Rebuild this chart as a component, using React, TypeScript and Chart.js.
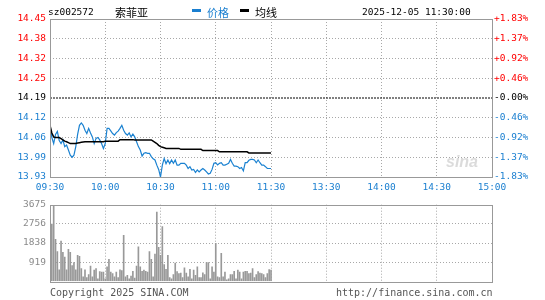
import React, { useEffect, useRef } from 'react';
import { Chart, registerables } from 'chart.js';
Chart.register(...registerables);

const stockCode = 'sz002572';
const stockName = '索菲亚';
const stampText = '2025-12-05 11:30:00';
const legendPrice = '价格';
const legendAvg = '均线';

const timeLabels = ['09:30', '10:00', '10:30', '11:00', '11:30', '13:30', '14:00', '14:30', '15:00'];
const priceTickLabels = ['13.93', '13.99', '14.06', '14.12', '14.19', '14.25', '14.32', '14.38', '14.45'];
const pctTickLabels = ['-1.83%', '-1.37%', '-0.92%', '-0.46%', '-0.00%', '+0.46%', '+0.92%', '+1.37%', '+1.83%'];
const volTickLabels = ['', '919', '1838', '2756', '3675'];

const prevClose = 14.19;
const priceMin = 13.93;
const priceMax = 14.45;
const volMax = 3675;
const totalMinutes = 240;

const price = [
  14.10, 14.06, 14.04, 14.07, 14.08, 14.05, 14.04, 14.052, 14.03, 14.035,
  14.019, 14.002, 13.995, 14.002, 14.03, 14.07, 14.10, 14.108, 14.10, 14.084,
  14.073, 14.09, 14.075, 14.062, 14.04, 14.057, 14.06, 14.052, 14.04, 14.024,
  14.04, 14.09, 14.09, 14.082, 14.073, 14.068, 14.076, 14.081, 14.09, 14.10,
  14.084, 14.073, 14.068, 14.075, 14.062, 14.071, 14.062, 14.046, 14.03, 14.019,
  13.999, 14.008, 14.01, 14.008, 14.008, 13.997, 13.99, 13.986, 13.969, 13.955,
  13.93, 13.969, 13.991, 13.974, 13.986, 13.974, 13.986, 13.975, 13.986, 13.969,
  13.969, 13.975, 13.975, 13.975, 13.969, 13.958, 13.964, 13.953, 13.955, 13.945,
  13.953, 13.947, 13.953, 13.958, 13.953, 13.947, 13.94, 13.942, 13.955, 13.975,
  13.977, 13.97, 13.975, 13.977, 13.969, 13.969, 13.972, 13.975, 13.988, 13.975,
  13.966, 13.966, 13.964, 13.958, 13.961, 13.95, 13.977, 13.977, 13.985, 13.988,
  13.988, 13.986, 13.977, 13.986, 13.977, 13.969, 13.969, 13.964, 13.958, 13.958,
  13.958,
];

const avgPrice = [
  14.100, 14.075, 14.062, 14.060, 14.060, 14.060, 14.056, 14.052, 14.048, 14.046,
  14.043, 14.040, 14.040, 14.040, 14.040, 14.042, 14.043, 14.044, 14.045, 14.046,
  14.046, 14.046, 14.046, 14.046, 14.046, 14.046, 14.046, 14.046, 14.046, 14.046,
  14.048, 14.048, 14.048, 14.048, 14.048, 14.048, 14.048, 14.048, 14.053, 14.053,
  14.053, 14.053, 14.053, 14.053, 14.053, 14.053, 14.052, 14.052, 14.052, 14.052,
  14.052, 14.052, 14.052, 14.052, 14.052, 14.052, 14.048, 14.044, 14.040, 14.034,
  14.030, 14.028, 14.026, 14.024, 14.024, 14.024, 14.024, 14.024, 14.024, 14.024,
  14.024, 14.021, 14.021, 14.021, 14.021, 14.021, 14.021, 14.021, 14.021, 14.021,
  14.021, 14.021, 14.021, 14.017, 14.017, 14.017, 14.017, 14.017, 14.017, 14.017,
  14.017, 14.017, 14.013, 14.013, 14.013, 14.013, 14.013, 14.013, 14.013, 14.013,
  14.013, 14.013, 14.013, 14.013, 14.013, 14.013, 14.013, 14.013, 14.009, 14.009,
  14.009, 14.009, 14.009, 14.009, 14.009, 14.009, 14.009, 14.009, 14.009, 14.009,
  14.009,
];

const volume = [
  394, 2742, 3645, 2012, 1429, 554, 1925, 1385, 1167, 554,
  1531, 1385, 758, 904, 554, 1240, 1196, 613, 219, 554,
  175, 321, 729, 219, 540, 613, 117, 467, 438, 438,
  117, 700, 1050, 438, 365, 219, 438, 175, 554, 520,
  2200, 220, 290, 120, 250, 480, 150, 730, 1650, 700,
  480, 540, 480, 440, 1430, 1050, 220, 1310, 3325, 1630,
  1240, 2625, 800, 580, 1240, 175, 120, 320, 875, 470,
  365, 390, 175, 650, 390, 220, 580, 120, 540, 290,
  700, 175, 175, 410, 320, 900, 900, 120, 700, 440,
  1820, 220, 175, 1340, 220, 440, 75, 120, 320, 320,
  480, 120, 540, 440, 120, 440, 480, 480, 365, 390,
  610, 175, 320, 470, 390, 365, 320, 175, 365, 560,
  540,
];

const MONO = "'DejaVu Sans Mono', monospace";
const CJK = "'Noto Sans CJK SC', sans-serif";
const BLUE = '#1a7fd0';
const LINE_BLUE = '#1b82d1';
const RED = '#ff0000';
const GRID = '#a8a8a8';
const FRAME = '#999999';
const TICK_FONT = { family: MONO, size: 9.5 };
const TRANSPARENT = 'rgba(0,0,0,0)';

const framePlugin = {
  id: 'frame',
  afterDraw(chart: any) {
    const { ctx, chartArea: a } = chart;
    ctx.save();
    ctx.strokeStyle = FRAME;
    ctx.lineWidth = 1;
    ctx.strokeRect(Math.round(a.left) + 0.5, Math.round(a.top) + 0.5, Math.round(a.right - a.left), Math.round(a.bottom - a.top));
    ctx.restore();
  },
};

const timeTicks = (s: any) => {
  const step = totalMinutes / (timeLabels.length - 1);
  s.ticks = timeLabels.map((_, k) => ({ value: k * step }));
};
const priceTicks = (s: any) => {
  const n = priceTickLabels.length - 1;
  s.ticks = priceTickLabels.map((_, k) => ({ value: priceMin + (k * (priceMax - priceMin)) / n }));
};

export default function App() {
  const priceRef = useRef<HTMLCanvasElement>(null);
  const volRef = useRef<HTMLCanvasElement>(null);

  useEffect(() => {
    const priceChart = new Chart(priceRef.current as HTMLCanvasElement, {
      type: 'line',
      data: {
        datasets: [
          {
            data: avgPrice.map((v, i) => ({ x: i, y: v })),
            borderColor: '#000000',
            borderWidth: 1.5,
            pointRadius: 0,
            tension: 0,
            order: 0,
          },
          {
            data: price.map((v, i) => ({ x: i, y: v })),
            borderColor: LINE_BLUE,
            borderWidth: 1.2,
            pointRadius: 0,
            tension: 0,
            order: 1,
          },
          {
            data: [
              { x: 0, y: prevClose },
              { x: totalMinutes, y: prevClose },
            ],
            borderColor: '#000000',
            borderWidth: 1,
            borderDash: [2, 1],
            pointRadius: 0,
            order: 2,
          },
        ],
      },
      options: {
        animation: false,
        responsive: false,
        devicePixelRatio: 1,
        layout: { padding: { top: 19, left: 0, right: 0, bottom: 0 } },
        plugins: { legend: { display: false }, tooltip: { enabled: false } },
        scales: {
          x: {
            type: 'linear',
            min: 0,
            max: totalMinutes,
            afterBuildTicks: timeTicks,
            afterFit: (s: any) => {
              s.height = 18;
            },
            ticks: {
              autoSkip: false,
              maxRotation: 0,
              padding: 5,
              color: BLUE,
              font: TICK_FONT,
              callback: (_v: any, i: number) => timeLabels[i],
            },
            grid: {
              drawTicks: false,
              lineWidth: 1,
              color: (c: any) => (c.index === 0 || c.index === timeLabels.length - 1 ? TRANSPARENT : GRID),
            },
            border: { display: false, dash: [1, 2] },
          },
          y: {
            position: 'left',
            min: priceMin,
            max: priceMax,
            afterBuildTicks: priceTicks,
            afterFit: (s: any) => {
              s.width = 50;
            },
            ticks: {
              padding: 4,
              font: TICK_FONT,
              color: (c: any) => (c.index < 4 ? BLUE : c.index === 4 ? '#000000' : RED),
              callback: (_v: any, i: number) => priceTickLabels[i],
            },
            grid: {
              drawTicks: false,
              lineWidth: 1,
              color: (c: any) =>
                c.index === 0 || c.index === 4 || c.index === priceTickLabels.length - 1 ? TRANSPARENT : GRID,
            },
            border: { display: false, dash: [1, 2] },
          },
          y2: {
            position: 'right',
            min: priceMin,
            max: priceMax,
            afterBuildTicks: priceTicks,
            afterFit: (s: any) => {
              s.width = 53;
            },
            ticks: {
              padding: 2,
              font: TICK_FONT,
              color: (c: any) => (c.index < 4 ? BLUE : c.index === 4 ? '#000000' : RED),
              callback: (_v: any, i: number) => pctTickLabels[i],
            },
            grid: { display: false, drawTicks: false },
            border: { display: false },
          },
        },
      } as any,
      plugins: [framePlugin],
    });

    const volChart = new Chart(volRef.current as HTMLCanvasElement, {
      type: 'bar',
      data: {
        datasets: [
          {
            data: volume.map((v, i) => ({ x: i, y: v })),
            backgroundColor: '#999999',
            borderWidth: 0,
            barThickness: 1,
          },
        ],
      },
      options: {
        animation: false,
        responsive: false,
        devicePixelRatio: 1,
        layout: { padding: { top: 6, left: 0, right: 53, bottom: 6 } },
        plugins: { legend: { display: false }, tooltip: { enabled: false } },
        scales: {
          x: {
            type: 'linear',
            min: 0,
            max: totalMinutes,
            offset: false,
            afterBuildTicks: timeTicks,
            afterFit: (s: any) => {
              s.height = 0;
            },
            ticks: { display: false },
            grid: {
              offset: false,
              drawTicks: false,
              lineWidth: 1,
              color: (c: any) => (c.index === 0 || c.index === timeLabels.length - 1 ? TRANSPARENT : GRID),
            },
            border: { display: false, dash: [1, 2] },
          },
          y: {
            min: 0,
            max: volMax,
            afterBuildTicks: (s: any) => {
              const n = volTickLabels.length - 1;
              s.ticks = volTickLabels.map((_, k) => ({ value: (k * volMax) / n }));
            },
            afterFit: (s: any) => {
              s.width = 50;
            },
            ticks: {
              padding: 4,
              font: TICK_FONT,
              color: '#8a8a8a',
              callback: (_v: any, i: number) => volTickLabels[i],
            },
            grid: {
              drawTicks: false,
              lineWidth: 1,
              color: (c: any) => (c.index === 0 || c.index === volTickLabels.length - 1 ? TRANSPARENT : GRID),
            },
            border: { display: false, dash: [1, 2] },
          },
        },
      } as any,
      plugins: [framePlugin],
    });

    return () => {
      priceChart.destroy();
      volChart.destroy();
    };
  }, []);

  const mono = (size: number) => ({ fontFamily: MONO, fontSize: size, lineHeight: '12px', whiteSpace: 'nowrap' as const });
  const cjk = { fontFamily: CJK, fontSize: 11, lineHeight: '14px', whiteSpace: 'nowrap' as const };

  return (
    <div style={{ position: 'absolute', left: 0, top: 0, width: 545, height: 300, background: '#ffffff', overflow: 'hidden' }}>
      <canvas ref={priceRef} width={545} height={195} style={{ position: 'absolute', left: 0, top: 0, width: 545, height: 195 }} />
      <canvas ref={volRef} width={545} height={96} style={{ position: 'absolute', left: 0, top: 195, width: 545, height: 96 }} />

      <span style={{ position: 'absolute', left: 48, top: 6, color: '#000', ...mono(9.5) }}>{stockCode}</span>
      <span style={{ position: 'absolute', left: 115, top: 5, color: '#000', ...cjk }}>{stockName}</span>
      <div style={{ position: 'absolute', left: 192, top: 9, width: 9, height: 3, background: BLUE }} />
      <span style={{ position: 'absolute', left: 207, top: 5, color: BLUE, ...cjk }}>{legendPrice}</span>
      <div style={{ position: 'absolute', left: 240, top: 9, width: 9, height: 3, background: '#000' }} />
      <span style={{ position: 'absolute', left: 255, top: 5, color: '#000', ...cjk }}>{legendAvg}</span>
      <span style={{ position: 'absolute', left: 362, top: 6, color: '#000', ...mono(9.5) }}>{stampText}</span>

      <span
        style={{
          position: 'absolute',
          left: 446,
          top: 153,
          color: 'rgba(190,190,190,0.55)',
          fontFamily: "'Liberation Sans', sans-serif",
          fontStyle: 'italic',
          fontWeight: 'bold',
          fontSize: 16,
          lineHeight: '18px',
        }}
      >
        sina
      </span>

      <span style={{ position: 'absolute', left: 50, top: 287, color: '#555', ...mono(10) }}>Copyright 2025 SINA.COM</span>
      <span style={{ position: 'absolute', left: 336, top: 287, color: '#555', ...mono(10) }}>http://finance.sina.com.cn</span>
    </div>
  );
}
